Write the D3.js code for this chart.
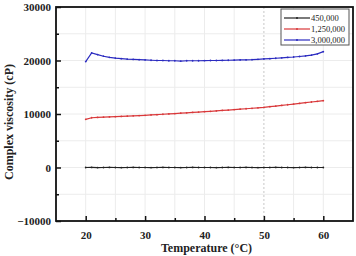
<!DOCTYPE html>
<meta charset="utf-8">
<script src="https://d3js.org/d3.v7.min.js"></script>
<style>
  body { margin: 0; background: #fff; }
  text { font-family: "Liberation Serif", "Times New Roman", serif; }
</style>
<svg id="chart" width="356" height="256"></svg>
<script>

// temperatures (°C), one reading per degree
var temps = d3.range(20, 61, 1);

// complex viscosity (cP)
var visc450k = [0, 10, -10, 0, 5, 0, -5, 0, 10, 0, 0, -10, 0, 5, 0, 0, -5, 0, 10, 0, 0,
  0, -5, 0, 5, 0, 0, 10, 0, -5, 0, 0, 5, 0, 0, -10, 0, 5, 0, 0, 0];
var visc1250k = [9000, 9300, 9360, 9410, 9460, 9500, 9550, 9600, 9650, 9700, 9760,
  9820, 9880, 9950, 10010, 10080, 10150, 10220, 10290, 10360, 10430,
  10500, 10580, 10660, 10740, 10820, 10900, 10980, 11070, 11160, 11250,
  11370, 11490, 11610, 11730, 11850, 11980, 12110, 12240, 12370, 12500];
var visc3000k = [19800, 21400, 21100, 20800, 20600, 20450, 20350, 20250, 20200, 20150, 20100,
  20050, 20000, 20000, 19950, 19950, 19900, 19950, 19950, 19950, 19980,
  20000, 20000, 20020, 20050, 20080, 20100, 20120, 20150, 20220, 20300,
  20350, 20420, 20500, 20580, 20650, 20750, 20850, 21000, 21250, 21650];

var seriesNames = ["450,000", "1,250,000", "3,000,000"];
var seriesColors = ["#222222", "#d9383a", "#2b2bc0"];
var allSeries = [visc450k, visc1250k, visc3000k];

var xTicks = [20, 30, 40, 50, 60];
var yTicks = [-10000, 0, 10000, 20000, 30000];

var svg = d3.select("#chart");
var pLeft = 56, pRight = 353, pTop = 7, pBottom = 221;

var x = d3.scaleLinear().domain([15, 65]).range([pLeft, pRight]);
var y = d3.scaleLinear().domain([-10000, 30000]).range([pBottom, pTop]);

// light grid at every major and minor step
var grid = svg.append("g");
grid.selectAll("line.gx")
  .data(d3.range(20, 65, 5))
  .enter().append("line")
    .attr("x1", d => x(d)).attr("x2", d => x(d))
    .attr("y1", pTop).attr("y2", pBottom)
    .attr("stroke", d => d === 50 ? "#c8c8c8" : "#ececec")
    .attr("stroke-dasharray", d => d === 50 ? "2,2" : null)
    .attr("stroke-width", 1);
grid.selectAll("line.gy")
  .data(d3.range(-5000, 30000, 5000))
  .enter().append("line")
    .attr("x1", pLeft).attr("x2", pRight)
    .attr("y1", d => y(d)).attr("y2", d => y(d))
    .attr("stroke", "#ececec")
    .attr("stroke-width", 1);

// data lines with small dot markers
var line = d3.line()
  .x((d, i) => x(temps[i]))
  .y(d => y(d));

allSeries.forEach(function(vals, k) {
  svg.append("path")
    .datum(vals)
    .attr("fill", "none")
    .attr("stroke", seriesColors[k])
    .attr("stroke-width", 1.2)
    .attr("d", line);
  svg.append("g").selectAll("circle")
    .data(vals)
    .enter().append("circle")
      .attr("cx", (d, i) => x(temps[i]))
      .attr("cy", d => y(d))
      .attr("r", 0.9)
      .attr("fill", seriesColors[k]);
});

// frame
svg.append("rect")
  .attr("x", pLeft).attr("y", pTop)
  .attr("width", pRight - pLeft).attr("height", pBottom - pTop)
  .attr("fill", "none")
  .attr("stroke", "#111")
  .attr("stroke-width", 1.8);

// bottom axis, ticks inside
var xAxis = svg.append("g").attr("transform", "translate(0," + pBottom + ")");
xAxis.call(d3.axisBottom(x).tickValues(xTicks).tickSize(-5).tickFormat(d3.format("d")));
xAxis.append("g").call(d3.axisBottom(x).tickValues([25, 35, 45, 55]).tickSize(-3).tickFormat(""));
xAxis.selectAll(".domain").remove();
xAxis.selectAll(".tick line").attr("stroke", "#111").attr("stroke-width", 1.5);
xAxis.selectAll("text")
  .attr("y", 10)
  .style("font-family", "Liberation Serif")
  .style("font-weight", "bold")
  .style("font-size", "11px")
  .attr("fill", "#222");

// left axis, ticks inside
var yAxis = svg.append("g").attr("transform", "translate(" + pLeft + ",0)");
yAxis.call(d3.axisLeft(y).tickValues(yTicks).tickSize(-5).tickPadding(5).tickFormat(d3.format("d")));
yAxis.append("g").call(d3.axisLeft(y).tickValues([-5000, 5000, 15000, 25000]).tickSize(-3).tickFormat(""));
yAxis.selectAll(".domain").remove();
yAxis.selectAll(".tick line").attr("stroke", "#111").attr("stroke-width", 1.5);
yAxis.selectAll("text")
  .attr("x", -5)
  .style("font-family", "Liberation Serif")
  .style("font-weight", "bold")
  .style("font-size", "11px")
  .attr("fill", "#222");

// axis titles
svg.append("text")
  .attr("x", (pLeft + pRight) / 2 + 2).attr("y", 252)
  .attr("text-anchor", "middle")
  .style("font-weight", "bold").style("font-size", "12px")
  .attr("fill", "#222")
  .text("Temperature (°C)");
svg.append("text")
  .attr("transform", "translate(13,122) rotate(-90)")
  .attr("text-anchor", "middle")
  .style("font-weight", "bold").style("font-size", "12px")
  .attr("fill", "#222")
  .text("Complex viscosity (cP)");

// legend
var lg = svg.append("g").attr("transform", "translate(281,9)");
lg.append("rect")
  .attr("width", 68).attr("height", 36)
  .attr("fill", "#fff")
  .attr("stroke", "#555").attr("stroke-width", 1);
seriesNames.forEach(function(name, k) {
  var yy = 9 + k * 11;
  lg.append("line")
    .attr("x1", 3).attr("x2", 29)
    .attr("y1", yy).attr("y2", yy)
    .attr("stroke", seriesColors[k]).attr("stroke-width", 1.2);
  lg.append("circle").attr("cx", 16).attr("cy", yy).attr("r", 1).attr("fill", seriesColors[k]);
  lg.append("text")
    .attr("x", 30).attr("y", yy + 3)
    .style("font-size", "8.5px")
    .attr("fill", "#222")
    .text(name);
});

</script>
